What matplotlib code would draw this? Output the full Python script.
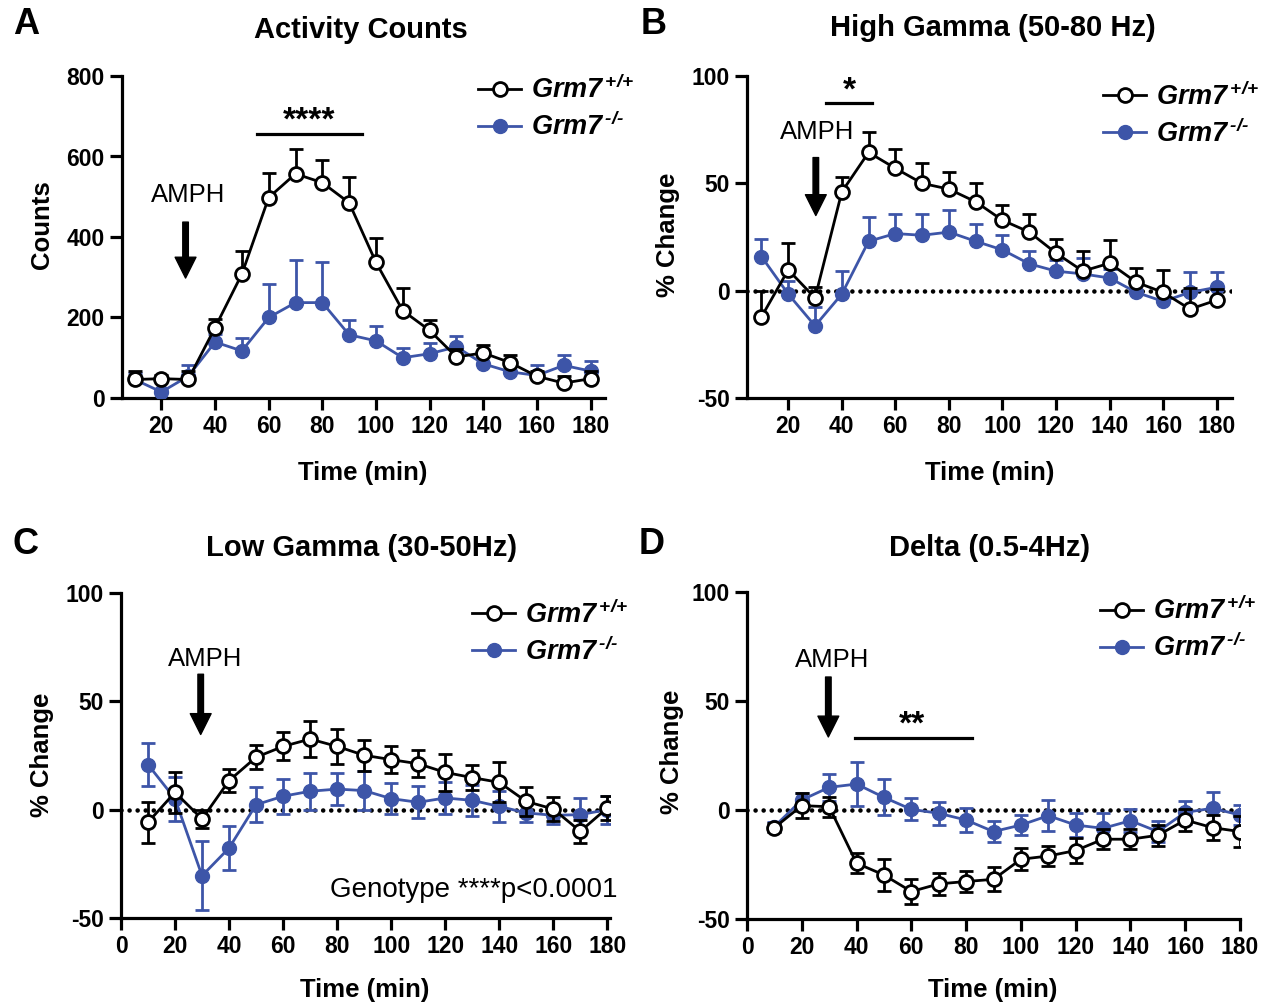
import matplotlib
matplotlib.use("Agg")
import matplotlib.pyplot as plt
import numpy as np
from matplotlib.mathtext import MathTextParser

plt.rcParams['font.family'] = ['Liberation Sans', 'DejaVu Sans']
plt.rcParams['axes.unicode_minus'] = False
plt.rcParams['mathtext.fontset'] = 'custom'
plt.rcParams['mathtext.it'] = 'Liberation Sans:italic:bold'
plt.rcParams['mathtext.rm'] = 'Liberation Sans:italic:bold'
plt.rcParams['mathtext.bf'] = 'Liberation Sans:italic:bold'
plt.rcParams['mathtext.default'] = 'it'

time = [10, 20, 30, 40, 50, 60, 70, 80, 90, 100, 110, 120, 130, 140, 150, 160, 170, 180]

# Panel A: Activity Counts
a_wt = [46, 48, 46, 175, 308, 498, 557, 535, 485, 337, 217, 168, 102, 112, 88, 54, 37, 48]
a_wt_err = [20, 8, 20, 21, 58, 60, 62, 57, 63, 61, 56, 25, 20, 20, 19, 12, 17, 20]
a_ko = [46, 15, 54, 139, 117, 200, 237, 237, 157, 142, 100, 110, 127, 85, 65, 56, 81, 67]
a_ko_err = [15, 6, 28, 19, 31, 82, 105, 100, 38, 37, 25, 27, 26, 19, 18, 26, 27, 26]

# Panel B: High Gamma
b_wt = [-12.2, 9.7, -3.4, 46, 64.4, 57, 50, 47.3, 41.4, 32.8, 27.3, 17.5, 9.1, 12.8, 3.9, -0.8, -8.6, -4.4]
b_wt_err = [12, 12.5, 5, 6.8, 9.5, 9, 9.7, 7.8, 8.6, 7.3, 8.6, 6.7, 9.3, 10.6, 6.7, 10.5, 10, 5]
b_ko = [15.9, -1.6, -16.4, -1.6, 23, 26.6, 25.8, 27.3, 23, 19, 12.5, 9.1, 7.8, 5.9, -0.8, -5, -0.8, 1.6]
b_ko_err = [8, 6, 8.6, 10.7, 11.4, 9, 9.8, 10.2, 8.2, 6.8, 5.8, 5, 7.5, 4, 4, 4, 9.4, 7]

# Panel C: Low Gamma
c_wt = [-5.8, 8, -4.3, 13.4, 24.2, 29.2, 32.6, 29.2, 25.1, 23.1, 21.2, 17.2, 14.8, 12.6, 3.8, 0.3, -10, 0.8]
c_wt_err = [9.4, 9.4, 4, 5.4, 5.5, 6.5, 8.2, 8.2, 7.2, 6.2, 6.2, 8.5, 5.8, 9.2, 6.5, 5.5, 5.4, 5.4]
c_ko = [20.8, 5, -30.5, -17.7, 2.3, 6.2, 8.5, 9.5, 8.8, 5.1, 3.4, 5.4, 4.3, 1.5, -1.5, -2.6, -2.3, 0]
c_ko_err = [10, 10, 16, 10, 8, 8, 8.5, 7.4, 9, 7, 7.4, 7.4, 7.2, 7.2, 4, 4, 7.7, 6.5]

# Panel D: Delta
d_wt = [-8.1, 2, 1.5, -24.4, -29.8, -37.4, -33.9, -32.8, -31.8, -22.6, -21.1, -18.6, -13.4, -13.4, -11.6, -4.6, -8.1, -9.9]
d_wt_err = [2, 5.6, 4.6, 4.6, 7.2, 5.6, 4.9, 4.9, 5.5, 5, 4.6, 5.6, 4.6, 4.6, 4.7, 4.9, 5.8, 7.3]
d_ko = [-7.6, 4.6, 10.4, 11.9, 5.8, 0.3, -1.5, -4.6, -9.9, -6.9, -2.6, -6.9, -8.4, -4.9, -9.9, -1.1, 0.8, -2.3]
d_ko_err = [2, 3, 6.1, 9.9, 8.2, 5.1, 5.3, 5.3, 5, 4.6, 7.2, 5.3, 6.9, 5.2, 5, 5.2, 7.3, 4.6]

titles = ["Activity Counts", "High Gamma (50-80 Hz)", "Low Gamma (30-50Hz)", "Delta (0.5-4Hz)"]
letters = ["A", "B", "C", "D"]
ylabels = ["Counts", "% Change", "% Change", "% Change"]
xlabel = "Time (min)"


def _ok(s):
    try:
        MathTextParser('agg').parse(s, 100)
        return True
    except Exception:
        return False


_cand = ['$Grm7^{\\,\\text{+/+}}$', '$Grm7^{\\,{+}/{+}}$', '$Grm7^{\\,+/+}$']
_wt_label = next(s for s in _cand if _ok(s))
leg_labels = [_wt_label, '$Grm7^{\\,\u2010/\u2010}$']

BLUE = '#3D55A8'
W, H = 1271, 1008

fig = plt.figure(figsize=(W / 100, H / 100), dpi=100)


def add_ax(l, r, t, b):
    return fig.add_axes([l / W, 1 - b / H, (r - l) / W, (b - t) / H])


def ftext(x, y, s, **kw):
    fig.text(x / W, 1 - y / H, s, **kw)


def style(ax):
    for s in ['top', 'right']:
        ax.spines[s].set_visible(False)
    for s in ['left', 'bottom']:
        ax.spines[s].set_linewidth(2.3)
    ax.tick_params(width=2.3, length=8.5, labelsize=16.5, pad=4)
    for lab in ax.get_xticklabels() + ax.get_yticklabels():
        lab.set_fontweight('bold')


def zero_line(ax):
    ax.axhline(0, color='black', lw=3.3, ls=(0, (0.01, 1.75)),
               dash_capstyle='round', zorder=2)


def draw(ax, wt, wte, ko, koe, upper_only):
    x = np.array(time)
    if upper_only:
        ye_ko = [np.zeros(len(koe)), koe]
        ye_wt = [np.zeros(len(wte)), wte]
    else:
        ye_ko = koe
        ye_wt = wte
    eko = ax.errorbar(x, ko, yerr=ye_ko, fmt='-o', color=BLUE, mfc=BLUE, mec=BLUE,
                      ms=10, lw=2, elinewidth=2, capsize=5, capthick=2, zorder=3)
    ewt = ax.errorbar(x, wt, yerr=ye_wt, fmt='-o', color='black', mfc='white', mec='black',
                      mew=2, ms=10, lw=2, elinewidth=2, capsize=5, capthick=2, zorder=4)
    return ewt, eko


def legend(ax, handles, bx, by):
    ax.legend([handles[0].lines[0], handles[1].lines[0]], leg_labels, loc='upper left',
              bbox_to_anchor=(bx, by), frameon=False, fontsize=19.5,
              handlelength=1.6, handletextpad=0.35, labelspacing=0.3,
              borderpad=0, borderaxespad=0)


def arrow(ax, x, y0, y1):
    ax.annotate('', xy=(x, y1), xytext=(x, y0),
                arrowprops=dict(facecolor='black', edgecolor='black', width=4,
                                headwidth=15, headlength=15, shrink=0))


AMPH_FS = 18.5
STAR_FS = 24

# ---- Panel A
axA = add_ax(122, 605, 76, 398)
hA = draw(axA, a_wt, a_wt_err, a_ko, a_ko_err, True)
axA.set_xlim(5.3, 185.4)
axA.set_ylim(0, 800)
axA.set_xticks(range(20, 181, 20))
axA.set_yticks(range(0, 801, 200))
style(axA)
legend(axA, hA, 0.737, 1.0)
axA.text(30, 505, "AMPH", ha='center', va='center', fontsize=AMPH_FS)
arrow(axA, 29, 437, 298)
axA.plot([55.6, 94.8], [656, 656], color='black', lw=2.3)
axA.text(75, 688, "****", ha='center', va='center', fontsize=STAR_FS, fontweight='bold')

# ---- Panel B
axB = add_ax(747, 1232, 76, 398)
zero_line(axB)
hB = draw(axB, b_wt, b_wt_err, b_ko, b_ko_err, True)
axB.set_xlim(4.6, 185.7)
axB.set_ylim(-50, 100)
axB.set_xticks(range(20, 181, 20))
axB.set_yticks([-50, 0, 50, 100])
style(axB)
legend(axB, hB, 0.734, 0.98)
axB.text(30.7, 74, "AMPH", ha='center', va='center', fontsize=AMPH_FS)
arrow(axB, 30.3, 62, 35)
axB.plot([34, 51.3], [87.4, 87.4], color='black', lw=2.3)
axB.text(43, 93, "*", ha='center', va='center', fontsize=STAR_FS, fontweight='bold')

# ---- Panel C
axC = add_ax(121, 610, 593, 918)
zero_line(axC)
hC = draw(axC, c_wt, c_wt_err, c_ko, c_ko_err, False)
axC.set_xlim(0, 181)
axC.set_ylim(-50, 100)
axC.set_xticks(range(0, 181, 20))
axC.set_yticks([-50, 0, 50, 100])
style(axC)
legend(axC, hC, 0.718, 0.977)
axC.text(31, 69.4, "AMPH", ha='center', va='center', fontsize=AMPH_FS)
arrow(axC, 29.5, 62.5, 34.7)
axC.text(1.016, -37, "Genotype ****p<0.0001", ha='right', va='center', fontsize=20,
         transform=axC.get_yaxis_transform())

# ---- Panel D
axD = add_ax(747, 1240, 592, 919)
zero_line(axD)
hD = draw(axD, d_wt, d_wt_err, d_ko, d_ko_err, False)
axD.set_xlim(0, 180)
axD.set_ylim(-50, 100)
axD.set_xticks(range(0, 181, 20))
axD.set_yticks([-50, 0, 50, 100])
style(axD)
legend(axD, hD, 0.716, 0.985)
axD.text(31, 69, "AMPH", ha='center', va='center', fontsize=AMPH_FS)
arrow(axD, 29.7, 61, 33.5)
axD.plot([39.5, 82.2], [33, 33], color='black', lw=2.3)
axD.text(60.3, 39, "**", ha='center', va='center', fontsize=STAR_FS, fontweight='bold')

# ---- Figure texts
title_pos = [(361, 30), (993, 28), (362, 548), (990, 548)]
letter_pos = [(26, 24), (654, 24), (25, 544), (652, 544)]
ylab_pos = [(42, 225), (668, 235), (42, 755), (672, 752)]
xlab_pos = [(363, 473), (990, 473), (365, 990), (993, 990)]
for i in range(4):
    ftext(*title_pos[i], titles[i], ha='center', va='center', fontsize=21, fontweight='bold')
    ftext(*letter_pos[i], letters[i], ha='center', va='center', fontsize=26, fontweight='bold')
    ftext(*ylab_pos[i], ylabels[i], ha='center', va='center', fontsize=18.5, fontweight='bold', rotation=90)
    ftext(*xlab_pos[i], xlabel, ha='center', va='center', fontsize=18.5, fontweight='bold')

fig.savefig("out.png", dpi=100)
